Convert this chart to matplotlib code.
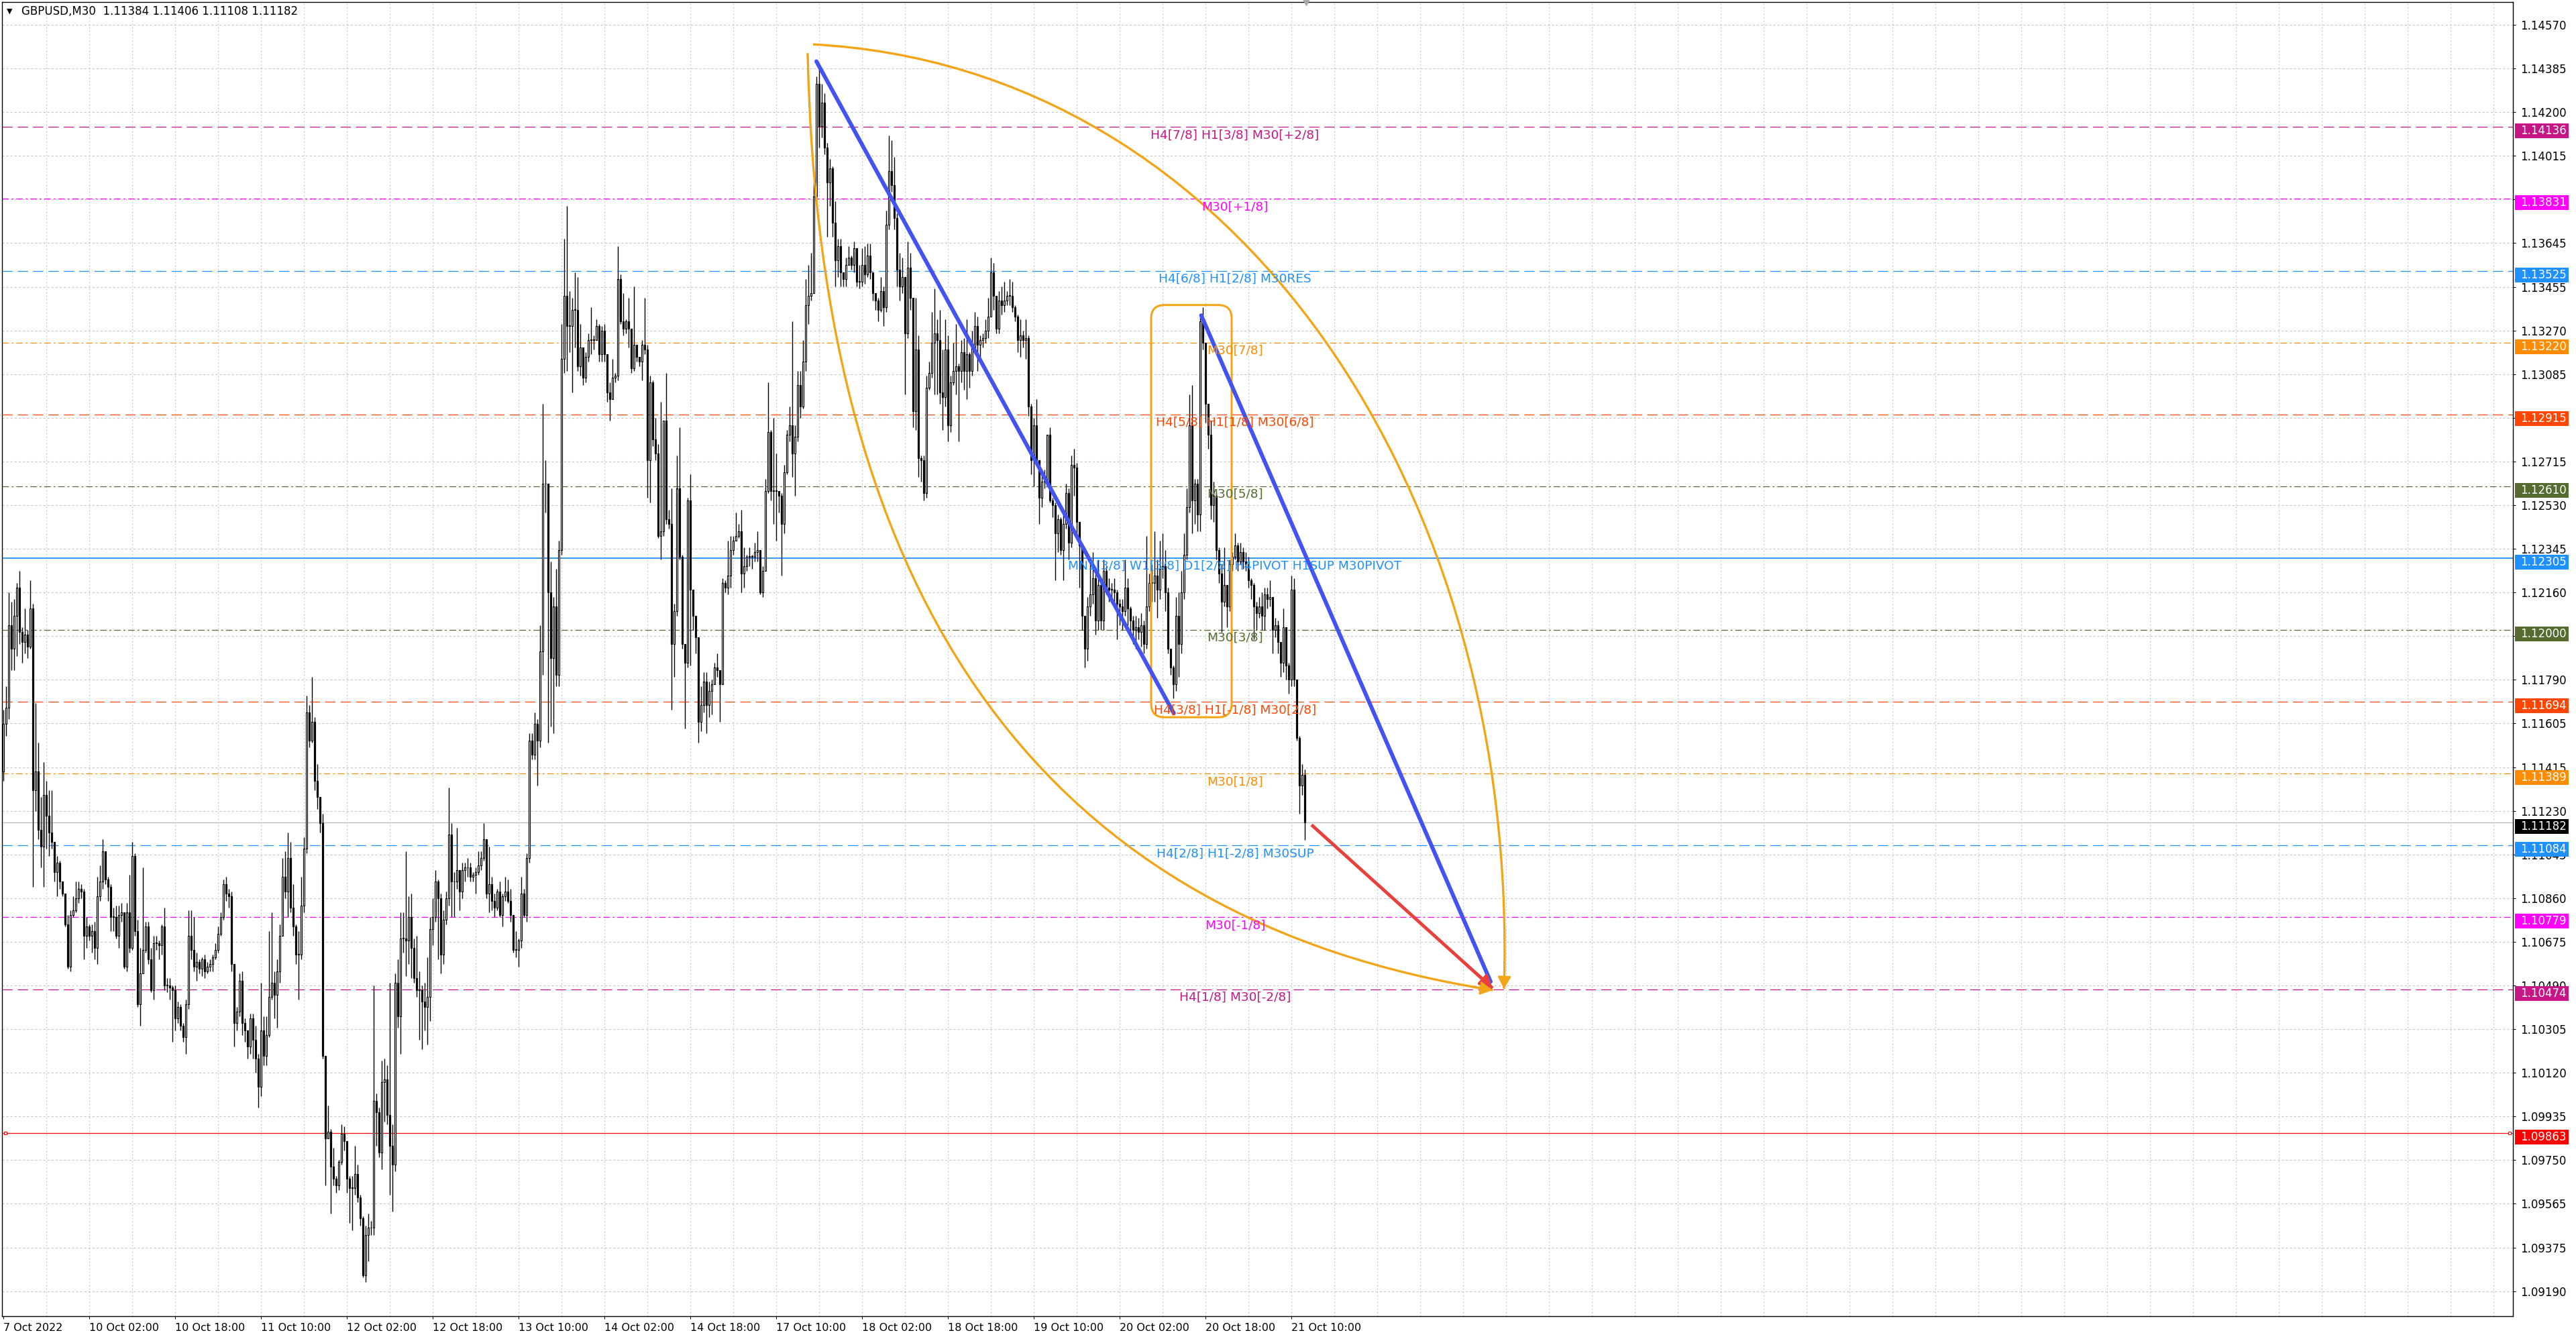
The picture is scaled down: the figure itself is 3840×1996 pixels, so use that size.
import numpy as np
import matplotlib.pyplot as plt
import matplotlib.transforms as mtransforms
from matplotlib.patches import Rectangle, FancyBboxPatch, PathPatch
from matplotlib.path import Path

plt.rcParams['font.family'] = ['DejaVu Sans']
plt.rcParams['lines.scale_dashes'] = False

W, H, DPI = 3840, 1996, 100

# ---- data: GBPUSD M30, prices kept in pips above 1.09000 ----
BASE = 1.09
PIP = 0.0001
first_open = 240
closes = [
    260, 267, 302, 292, 306, 318, 299, 295, 298, 293,
    309, 232, 240, 215, 208, 230, 221, 214, 210, 197,
    201, 193, 188, 175, 157, 179, 181, 186, 190, 189,
    170, 174, 170, 172, 165, 187, 193, 206, 194, 191,
    178, 178, 170, 179, 180, 157, 180, 165, 204, 172,
    141, 154, 164, 174, 160, 147, 167, 167, 166, 174,
    149, 149, 148, 147, 135, 140, 132, 127, 141, 170,
    164, 157, 159, 156, 160, 155, 157, 158, 161, 164,
    171, 178, 192, 188, 187, 158, 133, 138, 151, 133,
    130, 123, 135, 126, 118, 106, 130, 119, 128, 144,
    150, 145, 155, 170, 195, 189, 203, 182, 174, 162,
    162, 183, 207, 265, 253, 261, 236, 229, 218, 119,
    84, 87, 72, 67, 64, 74, 86, 83, 67, 63,
    63, 69, 59, 50, 26, 43, 46, 46, 100, 95,
    78, 108, 109, 94, 81, 73, 150, 136, 169, 169,
    168, 178, 165, 152, 147, 147, 142, 140, 144, 173,
    178, 193, 186, 162, 177, 186, 213, 193, 193, 198,
    189, 198, 199, 199, 195, 196, 197, 200, 203, 211,
    188, 192, 185, 182, 189, 179, 187, 189, 185, 179,
    164, 164, 168, 188, 179, 203, 253, 247, 260, 253,
    291, 362, 362, 316, 288, 310, 281, 334, 415, 442,
    429, 429, 436, 436, 412, 420, 407, 416, 423, 423,
    423, 429, 417, 427, 417, 401, 398, 407, 408, 449,
    431, 428, 431, 428, 411, 421, 416, 414, 421, 419,
    372, 405, 381, 375, 340, 342, 389, 347, 345, 294,
    308, 360, 331, 294, 286, 355, 317, 306, 297, 261,
    268, 278, 268, 274, 277, 284, 283, 277, 320, 318,
    323, 334, 338, 340, 342, 324, 327, 331, 331, 331,
    333, 334, 316, 325, 359, 384, 359, 359, 359, 357,
    345, 367, 383, 387, 375, 382, 404, 395, 414, 438,
    442, 443, 484, 532, 514, 524, 505, 490, 496, 473,
    457, 463, 452, 449, 455, 458, 455, 462, 448, 448,
    455, 451, 459, 452, 443, 440, 436, 444, 437, 472,
    495, 489, 475, 453, 446, 450, 426, 454, 441, 393,
    419, 373, 372, 358, 403, 409, 422, 426, 423, 401,
    399, 419, 387, 405, 410, 412, 410, 418, 410, 417,
    410, 420, 429, 421, 423, 424, 427, 433, 452, 442,
    428, 440, 438, 440, 442, 442, 437, 433, 423, 425,
    423, 424, 395, 372, 387, 372, 356, 363, 363, 383,
    355, 353, 341, 347, 334, 345, 358, 337, 370, 369,
    346, 336, 306, 292, 310, 315, 322, 304, 319, 304,
    325, 318, 317, 317, 316, 311, 310, 308, 318, 309,
    304, 300, 301, 299, 302, 294, 310, 320, 320, 323,
    317, 326, 327, 316, 292, 284, 277, 306, 294, 316,
    332, 352, 387, 355, 362, 349, 431, 422, 396, 383,
    353, 357, 334, 324, 312, 319, 310, 328, 331, 336,
    329, 333, 329, 328, 321, 319, 310, 307, 310, 306,
    315, 313, 314, 300, 302, 295, 286, 301, 285, 279,
    317, 279, 254, 234, 238.4, 218.2]
highs = [
    266, 276, 316, 312, 313, 320, 325, 301, 309, 300,
    321, 311, 269, 252, 229, 244, 236, 232, 232, 210,
    204, 202, 193, 188, 179, 181, 187, 193, 193, 192,
    190, 178, 175, 175, 176, 195, 200, 211, 206, 195,
    192, 182, 183, 183, 184, 180, 184, 196, 210, 205,
    177, 165, 199, 176, 176, 165, 170, 170, 168, 175,
    182, 152, 152, 149, 149, 142, 141, 133, 143, 181,
    181, 178, 163, 160, 161, 162, 159, 160, 162, 167,
    174, 180, 194, 195, 190, 189, 158, 140, 154, 155,
    135, 130, 137, 137, 132, 120, 150, 136, 136, 172,
    180, 155, 160, 175, 203, 206, 214, 210, 192, 175,
    172, 195, 212, 272, 268, 280, 263, 243, 229, 222,
    119, 98, 88, 80, 68, 75, 90, 89, 82, 68,
    68, 81, 73, 60, 51, 47, 52, 49, 149, 103,
    97, 117, 118, 115, 150, 90, 154, 160, 180, 180,
    206, 187, 188, 169, 170, 155, 149, 150, 161, 178,
    186, 198, 194, 188, 181, 189, 233, 218, 197, 216,
    198, 201, 201, 203, 201, 197, 199, 206, 206, 218,
    211, 208, 195, 188, 190, 193, 188, 195, 194, 190,
    179, 172, 169, 195, 190, 205, 256, 256, 265, 262,
    302, 396, 372, 362, 329, 314, 326, 338, 430, 466,
    480, 444, 441, 452, 450, 430, 420, 418, 426, 437,
    425, 432, 430, 429, 430, 417, 405, 415, 409, 463,
    451, 443, 432, 441, 427, 446, 421, 416, 423, 441,
    421, 408, 406, 390, 379, 397, 389, 409, 351, 360,
    311, 374, 386, 332, 293, 356, 366, 317, 306, 297,
    276, 282, 282, 278, 279, 286, 290, 283, 322, 321,
    338, 340, 340, 350, 345, 351, 335, 332, 335, 332,
    337, 342, 334, 327, 364, 405, 385, 390, 375, 358,
    358, 370, 385, 395, 431, 387, 410, 410, 423, 449,
    455, 460, 490, 535, 540, 532, 528, 507, 500, 497,
    482, 466, 466, 452, 458, 463, 459, 465, 460, 455,
    462, 463, 464, 464, 452, 443, 441, 450, 446, 478,
    510, 508, 501, 477, 460, 458, 450, 465, 460, 441,
    441, 425, 374, 374, 408, 414, 435, 445, 432, 436,
    419, 432, 425, 408, 422, 430, 413, 423, 424, 432,
    418, 427, 435, 433, 425, 426, 432, 441, 458, 456,
    442, 444, 446, 448, 444, 449, 448, 438, 434, 432,
    427, 432, 425, 396, 390, 398, 372, 366, 368, 383,
    386, 356, 354, 349, 348, 350, 362, 360, 374, 377,
    371, 346, 336, 306, 314, 330, 333, 324, 330, 322,
    330, 327, 322, 320, 322, 317, 313, 313, 330, 322,
    310, 306, 306, 305, 307, 304, 340, 324, 328, 342,
    330, 338, 341, 334, 318, 292, 285, 314, 316, 325,
    341, 360, 400, 404, 364, 364, 434, 437, 422, 396,
    389, 363, 358, 335, 328, 335, 319, 330, 333, 341,
    337, 337, 335, 333, 331, 322, 320, 312, 314, 316,
    318, 318, 321, 314, 305, 304, 295, 309, 301, 286,
    323, 322, 279, 255, 243, 240.6]
lows = [
    236, 255, 262, 283, 283, 289, 294, 286, 290, 288,
    292, 191, 223, 211, 199, 191, 207, 204, 207, 193,
    187, 190, 187, 174, 156, 155, 178, 180, 184, 186,
    160, 165, 168, 163, 160, 158, 185, 190, 192, 185,
    172, 172, 169, 165, 176, 156, 155, 163, 164, 170,
    140, 132, 160, 163, 158, 146, 143, 164, 160, 162,
    147, 146, 143, 125, 130, 133, 130, 125, 120, 139,
    160, 155, 151, 154, 153, 152, 154, 155, 155, 160,
    163, 170, 177, 185, 182, 155, 123, 130, 136, 128,
    125, 118, 120, 118, 112, 97, 102, 115, 115, 127,
    143, 135, 131, 150, 170, 186, 178, 180, 170, 158,
    143, 160, 180, 205, 250, 252, 232, 224, 214, 118,
    64, 84, 52, 64, 61, 62, 73, 79, 61, 48,
    45, 60, 57, 47, 25, 23, 32, 43, 43, 81,
    76, 71, 91, 90, 60, 53, 70, 131, 120, 163,
    153, 158, 152, 150, 144, 126, 122, 130, 124, 134,
    166, 176, 160, 154, 158, 175, 183, 178, 178, 190,
    181, 186, 193, 195, 193, 193, 188, 196, 198, 202,
    186, 180, 181, 178, 181, 178, 174, 185, 184, 176,
    163, 161, 157, 165, 178, 176, 201, 245, 245, 234,
    250, 281, 350, 252, 259, 256, 276, 276, 332, 409,
    410, 418, 401, 420, 410, 408, 404, 405, 414, 417,
    419, 426, 414, 414, 414, 397, 389, 400, 405, 406,
    430, 425, 426, 420, 409, 410, 414, 412, 406, 417,
    356, 354, 378, 372, 339, 330, 340, 345, 343, 266,
    280, 306, 330, 292, 258, 284, 285, 300, 290, 252,
    257, 265, 256, 263, 264, 277, 280, 261, 308, 316,
    315, 318, 332, 338, 339, 316, 318, 325, 327, 326,
    329, 329, 315, 314, 325, 358, 355, 345, 338, 350,
    323, 341, 366, 380, 365, 357, 380, 390, 394, 410,
    430, 440, 443, 482, 505, 509, 502, 467, 480, 467,
    446, 450, 446, 446, 446, 455, 453, 452, 446, 445,
    446, 447, 450, 449, 440, 436, 431, 435, 429, 435,
    470, 486, 470, 446, 440, 443, 400, 424, 436, 386,
    385, 365, 363, 355, 356, 402, 407, 400, 400, 396,
    385, 395, 380, 384, 404, 400, 380, 405, 402, 398,
    403, 408, 417, 410, 416, 420, 422, 424, 433, 436,
    426, 426, 434, 435, 438, 438, 435, 431, 418, 416,
    420, 415, 391, 366, 361, 370, 345, 352, 360, 361,
    354, 348, 321, 333, 332, 321, 343, 330, 335, 357,
    340, 318, 300, 284, 287, 306, 311, 298, 300, 300,
    300, 315, 312, 314, 312, 296, 302, 300, 306, 302,
    298, 294, 292, 296, 293, 290, 292, 308, 312, 312,
    305, 313, 322, 308, 290, 281, 271, 274, 280, 290,
    313, 330, 350, 341, 345, 342, 342, 419, 388, 377,
    347, 346, 330, 320, 299, 310, 301, 308, 325, 330,
    325, 328, 326, 325, 318, 313, 296, 300, 305, 300,
    300, 309, 310, 290, 297, 290, 280, 282, 279, 273,
    276, 276, 253, 222, 230, 210.8]

time_ticks = [0, 32, 64, 96, 128, 160, 192, 224, 256, 288, 320, 352, 384, 416, 448, 480]
time_labels = ['7 Oct 2022', '10 Oct 02:00', '10 Oct 18:00', '11 Oct 10:00', '12 Oct 02:00',
               '12 Oct 18:00', '13 Oct 10:00', '14 Oct 02:00', '14 Oct 18:00', '17 Oct 10:00',
               '18 Oct 02:00', '18 Oct 18:00', '19 Oct 10:00', '20 Oct 02:00', '20 Oct 18:00',
               '21 Oct 10:00']
price_ticks = [1.14570, 1.14385, 1.14200, 1.14015, 1.13830, 1.13645, 1.13455, 1.13270, 1.13085,
               1.12900, 1.12715, 1.12530, 1.12345, 1.12160, 1.11975, 1.11790, 1.11605, 1.11415,
               1.11230, 1.11045, 1.10860, 1.10675, 1.10490, 1.10305, 1.10120, 1.09935, 1.09750,
               1.09565, 1.09375, 1.09190]

level_prices = [1.14136, 1.13831, 1.13525, 1.13220, 1.12915, 1.12610, 1.12305,
                1.12000, 1.11694, 1.11389, 1.11084, 1.10779, 1.10474]
level_names = ['H4[7/8] H1[3/8] M30[+2/8]', 'M30[+1/8]', 'H4[6/8] H1[2/8] M30RES', 'M30[7/8]',
               'H4[5/8] H1[1/8] M30[6/8]', 'M30[5/8]',
               'MN1[3/8] W1[3/8] D1[2/8] H4PIVOT H1SUP M30PIVOT', 'M30[3/8]',
               'H4[3/8] H1[-1/8] M30[2/8]', 'M30[1/8]', 'H4[2/8] H1[-2/8] M30SUP', 'M30[-1/8]',
               'H4[1/8] M30[-2/8]']
level_colors = ['#c71585', '#ff00ff', '#1e90ff', '#ff8c00', '#ff4500', '#556b2f', '#1e90ff',
                '#556b2f', '#ff4500', '#ff8c00', '#1e90ff', '#ff00ff', '#c71585']
level_styles = ['dash', 'dashdot', 'dash', 'dashdot', 'dash', 'dashdot', 'solid',
                'dashdot', 'dash', 'dashdot', 'dash', 'dashdot', 'dash']
stop_price = 1.09863

# drawn objects: (bar, price) anchors
trend1 = [(303.0, 1.14415), (436.2, 1.11646)]
trend2 = [(446.4, 1.13336), (554.25, 1.10506)]
target = [(487.5, 1.11172), (555.0, 1.10478)]
arc_left = [(299.75, 1.14450), (306.25, 1.10914), (555.0, 1.10470)]
arc_right = [(301.75, 1.14487), (461.25, 1.14390), (565.0, 1.12567), (559.25, 1.10475)]
box_bars = (427.75, 457.75)
box_prices = (1.11629, 1.13380)
label_bar = 459

# ---- figure ----
fig = plt.figure(figsize=(W / DPI, H / DPI), dpi=DPI)
ax = fig.add_axes([3 / W, 34 / H, 3743 / W, 1959 / H])
xmin, xmax = -0.5, 935.25
ymin, ymax = 1.09085, 1.14667
ax.set_xlim(xmin, xmax)
ax.set_ylim(ymin, ymax)
px_per_bar = 3743 / (xmax - xmin)
px_per_price = 1959 / (ymax - ymin)

# grid
grid_c = '#c4c4c4'
for p in price_ticks:
    ax.axhline(p, color=grid_c, lw=0.8, dashes=(2.2, 2.2), zorder=0.5)
for b in range(16, int(xmax) + 1, 16):
    ax.axvline(b, color=grid_c, lw=0.8, dashes=(1.4, 2.2), zorder=0.5)

# levels
dash_map = {'dash': (11, 5.5), 'dashdot': (7, 3, 2, 3)}
for p, c, s in zip(level_prices, level_colors, level_styles):
    if s == 'solid':
        ax.axhline(p, color=c, lw=1.3, zorder=2)
    else:
        ax.axhline(p, color=c, lw=0.9, dashes=dash_map[s], zorder=2)
ax.axhline(stop_price, color='#ff0000', lw=0.9, zorder=2)
ax.plot([xmin + 1.2, xmax - 1.2], [stop_price, stop_price], ls='none', marker='s', ms=3.5,
        mfc='white', mec='#ff0000', mew=0.8, zorder=2.1)

# candles
c = BASE + np.array(closes, dtype=float) * PIP
o = np.r_[BASE + first_open * PIP, c[:-1]]
hi = np.maximum(BASE + np.array(highs, dtype=float) * PIP, np.maximum(o, c))
lo = np.minimum(BASE + np.array(lows, dtype=float) * PIP, np.minimum(o, c))
x = np.arange(len(c))
up = c >= o
ax.axhline(c[-1], color='#b8b8b8', lw=0.9, zorder=2)
ax.vlines(x, lo, hi, color='black', lw=1.0, zorder=3)
bottom = np.minimum(o, c)
height = np.maximum(np.abs(c - o), 0.000025)
ax.bar(x[up], height[up], bottom=bottom[up], width=0.55, facecolor='white',
       edgecolor='black', linewidth=0.85, zorder=4)
ax.bar(x[~up], height[~up], bottom=bottom[~up], width=0.55, facecolor='black',
       edgecolor='black', linewidth=0.85, zorder=4)

# level labels
for p, name, col in zip(level_prices, level_names, level_colors):
    ax.text(label_bar, p - 0.00009, name, color=col, fontsize=13.3, ha='center', va='top',
            zorder=8)

# drawn objects
orange = '#f2a516'
blue = '#4353f2'
head = '-|>,head_length=0.55,head_width=0.3'


def arrow_end(end, toward, color, lw, frac):
    start = (end[0] - frac * (end[0] - toward[0]), end[1] - frac * (end[1] - toward[1]))
    ax.annotate('', xy=end, xytext=start,
                arrowprops=dict(arrowstyle=head, color=color, lw=lw, mutation_scale=20,
                                shrinkA=0, shrinkB=0), zorder=7)


ax.plot(*zip(*trend1), color=blue, lw=4.3, solid_capstyle='round', zorder=7)
ax.plot(*zip(*trend2), color=blue, lw=4.3, solid_capstyle='round', zorder=7)
ax.plot(*zip(*target), color='#e8413c', lw=3.5, solid_capstyle='butt', zorder=7)
arrow_end(target[1], target[0], '#e8413c', 3.0, 0.15)
ax.add_patch(PathPatch(Path(arc_left, [Path.MOVETO, Path.CURVE3, Path.CURVE3]),
                       fill=False, ec=orange, lw=2.4, zorder=6))
ax.add_patch(PathPatch(Path(arc_right, [Path.MOVETO, Path.CURVE4, Path.CURVE4, Path.CURVE4]),
                       fill=False, ec=orange, lw=2.4, zorder=6))
arrow_end(arc_left[-1], arc_left[-2], orange, 2.0, 0.03)
arrow_end(arc_right[-1], arc_right[-2], orange, 2.0, 0.04)
ax.add_patch(FancyBboxPatch((box_bars[0], box_prices[0]), box_bars[1] - box_bars[0],
                            box_prices[1] - box_prices[0],
                            boxstyle='round,pad=0,rounding_size=5',
                            mutation_aspect=px_per_bar / px_per_price,
                            fill=False, ec=orange, lw=2.2, zorder=6))
ax.plot([len(c) - 0.5], [ymax], marker='v', color='#a8a8a8', ms=7, clip_on=False, zorder=9)

# price tags on the right scale
trans = mtransforms.blended_transform_factory(ax.transAxes, ax.transData)
half_h = 11 / px_per_price
shift = 6 / px_per_price
tags = list(zip(level_prices, level_colors)) + [(stop_price, '#ff0000'), (c[-1], '#000000')]

# axes
for sp in ax.spines.values():
    sp.set_color('black')
    sp.set_linewidth(1.0)
ax.yaxis.tick_right()
ax.set_yticks(price_ticks)
# a scale label sitting right under a price tag is hidden, as on the terminal
tick_text = []
for t in price_ticks:
    covered = any(abs((t - (p - shift)) * px_per_price) < 7 for p, _ in tags)
    tick_text.append('' if covered else '%.5f' % t)
ax.set_yticklabels(tick_text)
ax.tick_params(axis='y', length=3, width=0.8, pad=5, labelsize=12, colors='black')
ax.set_xticks(time_ticks)
ax.set_xticklabels(time_labels)
for lab in ax.get_xticklabels():
    lab.set_ha('left')
ax.tick_params(axis='x', length=3, width=0.8, pad=4, labelsize=11.5, colors='black')

for p, col in tags:
    ax.add_patch(Rectangle((1.0008, p - shift - half_h), 80 / 3743, 2 * half_h, transform=trans,
                           facecolor=col, edgecolor='none', clip_on=False, zorder=10))
    ax.text(1.0029, p - shift, '%.5f' % p, transform=trans, color='white', fontsize=12,
            ha='left', va='center', clip_on=False, zorder=11)

# header
fig.text(10 / W, 1 - 17 / H, '\u25bc', fontsize=8, va='center')
fig.text(32 / W, 1 - 17 / H, 'GBPUSD,M30  %.5f %.5f %.5f %.5f' % (o[-1], hi[-1], lo[-1], c[-1]),
         fontsize=12, va='center')

fig.savefig('out.png', dpi=DPI, facecolor='white')
